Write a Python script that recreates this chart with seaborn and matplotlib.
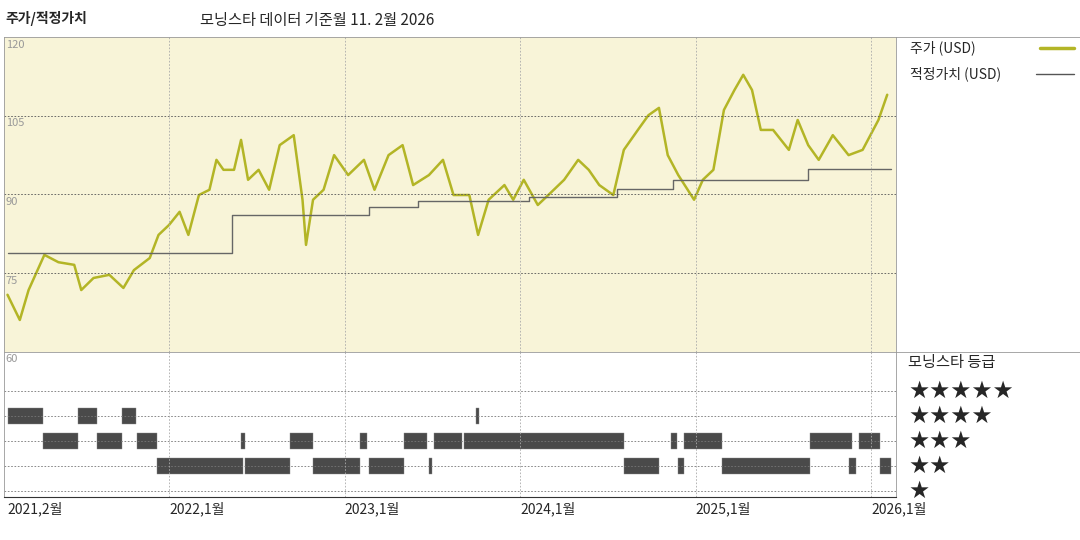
import matplotlib
matplotlib.use("Agg")
import matplotlib.pyplot as plt
import seaborn as sns
from matplotlib.lines import Line2D

sns.set_style("white")
plt.rcParams['font.family'] = ['Noto Sans CJK KR', 'DejaVu Sans']

# price (decimal year, USD)
price_t = [2021.08, 2021.15, 2021.20, 2021.29, 2021.37, 2021.46, 2021.50, 2021.57, 2021.66, 2021.74,
           2021.80, 2021.89, 2021.94, 2022.00, 2022.06, 2022.11, 2022.17, 2022.23, 2022.27, 2022.31,
           2022.37, 2022.41, 2022.45, 2022.51, 2022.57, 2022.63, 2022.71, 2022.76, 2022.78, 2022.82,
           2022.88, 2022.94, 2023.02, 2023.11, 2023.17, 2023.25, 2023.33, 2023.39, 2023.48, 2023.56,
           2023.62, 2023.71, 2023.76, 2023.82, 2023.91, 2023.96, 2024.02, 2024.10, 2024.16, 2024.25,
           2024.33, 2024.39, 2024.45, 2024.53, 2024.59, 2024.67, 2024.73, 2024.79, 2024.84, 2024.90,
           2024.99, 2025.04, 2025.10, 2025.16, 2025.22, 2025.27, 2025.32, 2025.37, 2025.44, 2025.53,
           2025.58, 2025.64, 2025.70, 2025.78, 2025.87, 2025.95, 2026.04, 2026.09]
price_v = [70.9, 66.1, 71.8, 78.5, 77.1, 76.6, 71.8, 74.1, 74.7, 72.2,
           75.6, 77.9, 82.3, 84.2, 86.7, 82.3, 89.9, 90.9, 96.6, 94.7,
           94.7, 100.4, 92.8, 94.7, 90.9, 99.4, 101.3, 89.0, 80.4, 89.0,
           90.9, 97.5, 93.7, 96.6, 90.9, 97.5, 99.4, 91.8, 93.7, 96.6,
           89.9, 89.9, 82.3, 89.0, 91.8, 89.0, 92.8, 88.0, 89.9, 92.8,
           96.6, 94.7, 91.8, 89.9, 98.5, 102.3, 105.1, 106.5, 97.5, 93.7,
           89.0, 92.8, 94.7, 106.1, 109.9, 112.8, 109.9, 102.3, 102.3, 98.5,
           104.2, 99.4, 96.6, 101.3, 97.5, 98.5, 104.2, 109.0]

# fair value steps
fair_t = [2021.08, 2022.36, 2023.14, 2023.42, 2024.05, 2024.55, 2024.87, 2025.64, 2026.11]
fair_v = [78.9, 86.0, 87.6, 88.8, 89.5, 91.0, 92.8, 94.9, 94.9]

# star rating periods (stars: list of (start, end))
rating_periods = {
    4: [(2021.08, 2021.28), (2021.48, 2021.59), (2021.73, 2021.81), (2023.75, 2023.765)],
    3: [(2021.28, 2021.48), (2021.59, 2021.73), (2021.82, 2021.93), (2022.41, 2022.43),
        (2022.69, 2022.82), (2023.09, 2023.13), (2023.34, 2023.47), (2023.51, 2023.67),
        (2023.68, 2024.59), (2024.86, 2024.89), (2024.93, 2025.15), (2025.65, 2025.89),
        (2025.93, 2026.05)],
    2: [(2021.93, 2022.42), (2022.43, 2022.69), (2022.82, 2023.09), (2023.14, 2023.34),
        (2023.48, 2023.50), (2024.59, 2024.79), (2024.90, 2024.93), (2025.15, 2025.65),
        (2025.87, 2025.91), (2026.05, 2026.11)],
}
year_ticks = [2021.08, 2022.0, 2023.0, 2024.0, 2025.0, 2026.0]
year_labels = ["2021,2월", "2022,1월", "2023,1월", "2024,1월", "2025,1월", "2026,1월"]
price_ticks = [120, 105, 90, 75, 60]

olive = "#b3b526"
xlo, xhi = 2021.06, 2026.14

fig = plt.figure(figsize=(10.8, 5.4), dpi=100)
ax = fig.add_axes([4/1080, 188/540, 892/1080, 315/540])
ax.set_facecolor("#f8f4d8")
sns.lineplot(x=price_t, y=price_v, ax=ax, color=olive, linewidth=1.8)
ax.plot(fair_t, fair_v, drawstyle="steps-post", color="#666666", linewidth=1)
ax.set_xlim(xlo, xhi)
ax.set_ylim(60, 120)
for v in price_ticks[1:4]:
    ax.axhline(v, color="#555555", linestyle=(0, (2, 2)), linewidth=0.6)
for t in year_ticks[1:]:
    ax.axvline(t, color="#aaaaaa", linestyle=(0, (2, 2)), linewidth=0.6)
for v in price_ticks[:4]:
    ax.text(xlo + 0.01, v - 0.5, str(v), va="top", ha="left", fontsize=8, color="#999999")
ax.set_xticks([]); ax.set_yticks([])
for s in ax.spines.values():
    s.set_color("#999999"); s.set_linewidth(0.6)

rows = {5: 106, 4: 81, 3: 56, 2: 31, 1: 6}
bx = fig.add_axes([4/1080, 43/540, 892/1080, 145/540])
bx.set_xlim(xlo, xhi)
bx.set_ylim(0, 145)
for y in rows.values():
    bx.axhline(y, color="#777777", linestyle=(0, (2, 2)), linewidth=0.6)
for t in year_ticks[1:]:
    bx.axvline(t, color="#aaaaaa", linestyle=(0, (2, 2)), linewidth=0.6)
for stars, periods in rating_periods.items():
    bx.broken_barh([(a, b - a) for a, b in periods], (rows[stars] - 8, 16),
                   facecolors="#4a4a4a", edgecolor="#888888", linewidth=0.3)
bx.text(xlo + 0.01, 143, "60", va="top", ha="left", fontsize=8, color="#999999")
bx.set_xticks(year_ticks)
bx.set_xticklabels(year_labels, fontsize=10, ha="left")
bx.tick_params(axis="x", length=0, pad=3)
bx.set_yticks([])
for k in ["top", "right", "left"]:
    bx.spines[k].set_color("#999999"); bx.spines[k].set_linewidth(0.6)
bx.spines["bottom"].set_color("#333333")

# right panel lines
fig.add_artist(Line2D([896/1080, 1], [503/540, 503/540], color="#999999", lw=0.6))
fig.add_artist(Line2D([896/1080, 1], [188/540, 188/540], color="#999999", lw=0.6))

fig.text(5/1080, 1 - 18/540, "주가/적정가치", fontsize=10, fontweight="bold", va="center")
fig.text(200/1080, 1 - 20/540, "모닝스타 데이터 기준월 11. 2월 2026", fontsize=11, va="center")
fig.text(910/1080, 1 - 48/540, "주가 (USD)", fontsize=10, va="center")
fig.add_artist(Line2D([1040/1080, 1074/1080], [1 - 48/540] * 2, color=olive, lw=2.5))
fig.text(910/1080, 1 - 74/540, "적정가치 (USD)", fontsize=10, va="center")
fig.add_artist(Line2D([1036/1080, 1074/1080], [1 - 74/540] * 2, color="#555555", lw=1))
fig.text(908/1080, 1 - 362/540, "모닝스타 등급", fontsize=11, va="center")
for stars, y in rows.items():
    fig.text(908/1080, (43 + y) / 540, "★" * stars, fontsize=17, va="center",
             family=["DejaVu Sans"])

fig.savefig("out.png", dpi=100)
